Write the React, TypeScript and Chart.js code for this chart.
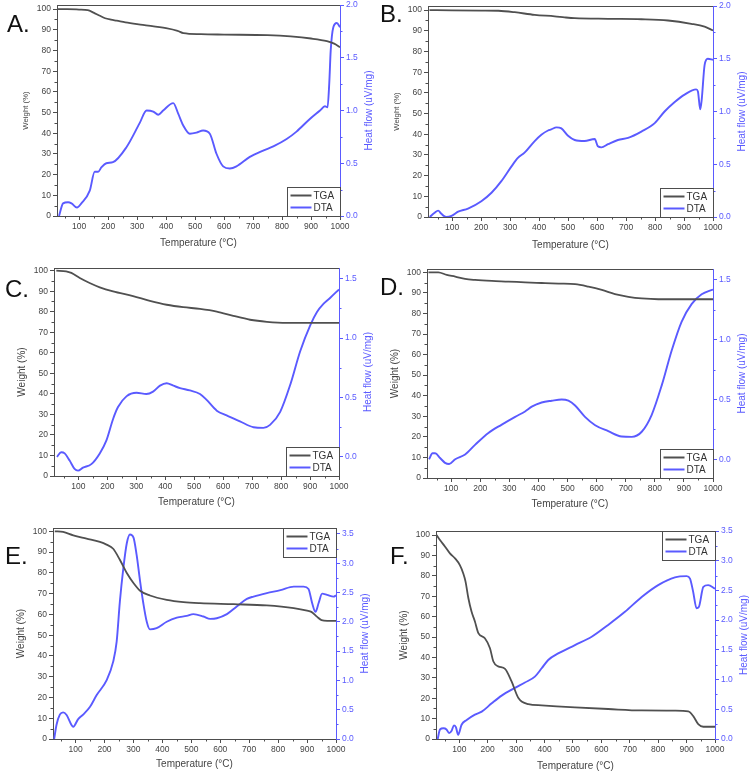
import React, { useEffect, useRef } from 'react';
import { Chart, registerables } from 'chart.js';

Chart.register(...registerables);

// ---------------- axis ticks ----------------
const X_TICKS = [100, 200, 300, 400, 500, 600, 700, 800, 900, 1000];
const X_MINOR = [50, 150, 250, 350, 450, 550, 650, 750, 850, 950];
const W_TICKS = [0, 10, 20, 30, 40, 50, 60, 70, 80, 90, 100];
const W_MINOR = [5, 15, 25, 35, 45, 55, 65, 75, 85, 95];
const H_TICKS_AB = [0, 0.5, 1.0, 1.5, 2.0];
const H_MINOR_AB = [0.25, 0.75, 1.25, 1.75];
const H_TICKS_CD = [0, 0.5, 1.0, 1.5];
const H_MINOR_CD = [0.25, 0.75, 1.25];
const H_TICKS_EF = [0, 0.5, 1.0, 1.5, 2.0, 2.5, 3.0, 3.5];
const H_MINOR_EF = [0.25, 0.75, 1.25, 1.75, 2.25, 2.75, 3.25];

const SERIES_NAMES = ['TGA', 'DTA'];
const X_TITLE = 'Temperature (°C)';
const W_TITLE = 'Weight (%)';
const H_TITLE = 'Heat flow (uV/mg)';

// ---------------- panel A ----------------
const A_TGA_T = [24, 60, 100, 130, 150, 170, 190, 210, 230, 260, 320, 400, 440, 460, 520, 600, 750, 830, 900, 955, 980, 1000];
const A_TGA_W = [100, 100, 99.8, 99.5, 98.3, 96.9, 95.6, 94.9, 94.4, 93.6, 92.4, 90.8, 89.5, 88.4, 87.9, 87.7, 87.4, 86.8, 85.8, 84.5, 83.3, 81.6];
const A_DTA_T = [31, 45, 62, 74, 93, 108, 137, 154, 166, 177, 194, 217, 263, 309, 333, 356, 373, 390, 425, 442, 459, 482, 505, 528, 551, 574, 597, 620, 643, 689, 735, 770, 816, 850, 896, 931, 948, 957, 963, 968, 977, 989, 1000];
const A_DTA_H = [0.0, 0.12, 0.13, 0.12, 0.08, 0.12, 0.24, 0.42, 0.42, 0.46, 0.5, 0.51, 0.65, 0.88, 1.0, 0.99, 0.96, 1.0, 1.07, 0.97, 0.86, 0.78, 0.79, 0.81, 0.78, 0.59, 0.47, 0.45, 0.47, 0.56, 0.62, 0.66, 0.73, 0.8, 0.92, 1.0, 1.04, 1.03, 1.26, 1.57, 1.79, 1.83, 1.79];

// ---------------- panel B ----------------
const B_TGA_T = [22, 100, 200, 260, 316, 385, 454, 488, 523, 638, 753, 845, 925, 971, 1000];
const B_TGA_W = [100, 99.9, 99.8, 99.7, 99.0, 97.7, 97.0, 96.5, 96.1, 95.8, 95.6, 95.0, 93.4, 92.0, 90.2];
const B_DTA_T = [23, 40, 52, 63, 80, 98, 121, 155, 201, 236, 270, 305, 327, 350, 385, 408, 431, 442, 460, 477, 500, 523, 557, 592, 603, 615, 638, 672, 707, 753, 799, 833, 868, 902, 942, 948, 956, 961, 971, 982, 1000];
const B_DTA_H = [0.0, 0.04, 0.06, 0.03, 0.0, 0.01, 0.05, 0.08, 0.15, 0.23, 0.34, 0.48, 0.56, 0.61, 0.72, 0.78, 0.82, 0.83, 0.85, 0.84, 0.77, 0.73, 0.72, 0.74, 0.67, 0.66, 0.69, 0.73, 0.75, 0.81, 0.89, 1.0, 1.09, 1.16, 1.21, 1.19, 1.02, 1.11, 1.44, 1.5, 1.49];

// ---------------- panel C ----------------
const C_TGA_T = [24, 58, 76, 105, 139, 174, 220, 289, 347, 405, 462, 520, 578, 635, 693, 751, 820, 1000];
const C_TGA_W = [100, 99.7, 98.9, 96.4, 94.0, 91.9, 89.9, 87.6, 85.3, 83.4, 82.2, 81.4, 80.1, 78.0, 76.1, 75.1, 74.6, 74.6];
const C_DTA_T = [26, 41, 53, 70, 87, 99, 116, 145, 174, 197, 220, 237, 266, 301, 335, 358, 382, 405, 428, 451, 485, 520, 543, 578, 612, 658, 705, 739, 762, 797, 832, 866, 901, 924, 947, 970, 1000];
const C_DTA_H = [0.0, 0.04, 0.03, -0.03, -0.1, -0.115, -0.09, -0.06, 0.03, 0.14, 0.32, 0.42, 0.51, 0.54, 0.53, 0.55, 0.6, 0.62, 0.6, 0.58, 0.56, 0.53, 0.48, 0.39, 0.35, 0.3, 0.25, 0.245, 0.27, 0.38, 0.61, 0.89, 1.11, 1.22, 1.29, 1.34, 1.41];

// ---------------- panel D ----------------
const D_TGA_T = [22, 56, 85, 114, 148, 182, 240, 297, 354, 411, 469, 526, 572, 618, 663, 709, 755, 812, 1000];
const D_TGA_W = [100, 100, 98.7, 97.9, 96.8, 96.3, 95.8, 95.5, 95.1, 94.8, 94.5, 94.2, 93.0, 91.4, 89.4, 88.1, 87.3, 86.9, 86.9];
const D_DTA_T = [24, 36, 45, 62, 79, 93, 114, 148, 182, 228, 274, 320, 354, 377, 411, 446, 480, 503, 526, 560, 595, 640, 686, 721, 755, 789, 824, 858, 892, 927, 961, 1000];
const D_DTA_H = [0.0, 0.05, 0.05, 0.01, -0.03, -0.04, 0.0, 0.04, 0.12, 0.22, 0.29, 0.355, 0.4, 0.44, 0.475, 0.49, 0.5, 0.49, 0.45, 0.355, 0.285, 0.235, 0.19, 0.187, 0.23, 0.37, 0.62, 0.91, 1.15, 1.3, 1.38, 1.42];

// ---------------- panel E ----------------
const E_TGA_T = [28, 57, 92, 138, 184, 207, 230, 253, 277, 300, 323, 357, 415, 473, 530, 646, 761, 854, 900, 915, 935, 950, 970, 1000];
const E_TGA_W = [100, 99.7, 98.1, 96.5, 94.9, 93.6, 91.6, 86.3, 79.9, 75.1, 71.4, 69.1, 67.0, 65.9, 65.4, 64.9, 64.3, 63.0, 61.8, 61.2, 58.8, 57.2, 56.9, 56.9];
const E_DTA_T = [26, 34, 46, 57, 69, 86, 92, 109, 127, 150, 173, 207, 230, 242, 253, 265, 277, 288, 300, 311, 323, 334, 346, 357, 380, 415, 450, 484, 507, 542, 565, 588, 623, 657, 692, 715, 761, 808, 854, 888, 905, 917, 929, 940, 952, 969, 992, 1000];
const E_DTA_H = [0.0, 0.24, 0.42, 0.455, 0.41, 0.24, 0.21, 0.34, 0.42, 0.55, 0.75, 1.0, 1.32, 1.66, 2.34, 2.91, 3.34, 3.49, 3.44, 3.14, 2.69, 2.32, 2.0, 1.87, 1.89, 2.0, 2.07, 2.1, 2.13, 2.09, 2.05, 2.06, 2.13, 2.26, 2.39, 2.43, 2.49, 2.54, 2.6, 2.6, 2.56, 2.33, 2.17, 2.32, 2.48, 2.46, 2.43, 2.45];

// ---------------- panel F ----------------
const F_TGA_T = [20, 32, 50, 67, 85, 102, 114, 122, 132, 143, 155, 167, 190, 208, 220, 237, 261, 284, 308, 343, 390, 507, 624, 742, 859, 906, 924, 941, 959, 1000];
const F_TGA_W = [100, 97.6, 94.3, 91.0, 88.6, 85.3, 81.2, 77.2, 69.0, 62.5, 57.6, 51.9, 49.4, 44.5, 38.0, 35.6, 34.4, 28.2, 20.1, 17.1, 16.5, 15.5, 14.7, 14.0, 13.9, 13.5, 11.1, 7.3, 6.0, 6.0];
const F_DTA_T = [24, 32, 44, 55, 64, 73, 81, 88, 96, 108, 126, 155, 179, 214, 249, 296, 331, 366, 390, 413, 448, 507, 566, 624, 683, 742, 800, 859, 900, 912, 923, 935, 943, 959, 976, 1000];
const F_DTA_H = [0.0, 0.16, 0.18, 0.16, 0.1, 0.14, 0.23, 0.2, 0.07, 0.24, 0.32, 0.41, 0.46, 0.6, 0.73, 0.86, 0.95, 1.05, 1.19, 1.33, 1.44, 1.58, 1.72, 1.92, 2.14, 2.39, 2.59, 2.72, 2.74, 2.7, 2.48, 2.2, 2.22, 2.56, 2.59, 2.53];

// ---------------- styles ----------------
const FONT = '"Liberation Sans", Arial, Helvetica, sans-serif';
const GRAY = '#4d4d4d';
const TEXT = '#444444';
const BLUE = '#5a5aff';
const TGA_COLOR = '#505050';

type PanelDef = {
  letter: string;
  box: [number, number, number, number];
  area: [number, number, number, number];
  letterPos: [number, number];
  xMin: number;
  wMax: number;
  hMin: number;
  hMax: number;
  hTicks: number[];
  hMinor: number[];
  legend: 'br' | 'tr';
  wTitleSize: number;
  xTitleDy: number;
  tgaT: number[];
  tgaW: number[];
  dtaT: number[];
  dtaH: number[];
};

const PANELS: PanelDef[] = [
  { letter: 'A.', box: [0, 0, 375, 258], area: [57, 5, 340, 216], letterPos: [7, 12], xMin: 24, wMax: 102, hMin: 0, hMax: 2, hTicks: H_TICKS_AB, hMinor: H_MINOR_AB, legend: 'br', wTitleSize: 7.8, xTitleDy: 27, tgaT: A_TGA_T, tgaW: A_TGA_W, dtaT: A_DTA_T, dtaH: A_DTA_H },
  { letter: 'B.', box: [375, 0, 375, 258], area: [428, 6, 713, 217], letterPos: [380, 2], xMin: 17, wMax: 102, hMin: 0, hMax: 2, hTicks: H_TICKS_AB, hMinor: H_MINOR_AB, legend: 'br', wTitleSize: 7.8, xTitleDy: 28, tgaT: B_TGA_T, tgaW: B_TGA_W, dtaT: B_DTA_T, dtaH: B_DTA_H },
  { letter: 'C.', box: [0, 258, 375, 259], area: [54, 268, 339, 476], letterPos: [5, 277], xMin: 16, wMax: 101.3, hMin: -0.16, hMax: 1.59, hTicks: H_TICKS_CD, hMinor: H_MINOR_CD, legend: 'br', wTitleSize: 10, xTitleDy: 26, tgaT: C_TGA_T, tgaW: C_TGA_W, dtaT: C_DTA_T, dtaH: C_DTA_H },
  { letter: 'D.', box: [375, 258, 375, 259], area: [427, 269, 713, 478], letterPos: [380, 275], xMin: 17, wMax: 101.6, hMin: -0.157, hMax: 1.592, hTicks: H_TICKS_CD, hMinor: H_MINOR_CD, legend: 'br', wTitleSize: 10, xTitleDy: 26, tgaT: D_TGA_T, tgaW: D_TGA_W, dtaT: D_DTA_T, dtaH: D_DTA_H },
  { letter: 'E.', box: [0, 517, 375, 259], area: [53, 528, 336, 739], letterPos: [5, 544], xMin: 22, wMax: 101.6, hMin: 0, hMax: 3.6, hTicks: H_TICKS_EF, hMinor: H_MINOR_EF, legend: 'tr', wTitleSize: 10, xTitleDy: 25, tgaT: E_TGA_T, tgaW: E_TGA_W, dtaT: E_DTA_T, dtaH: E_DTA_H },
  { letter: 'F.', box: [375, 517, 375, 259], area: [436, 531, 715, 739], letterPos: [390, 544], xMin: 18, wMax: 102, hMin: 0, hMax: 3.5, hTicks: H_TICKS_EF, hMinor: H_MINOR_EF, legend: 'tr', wTitleSize: 10, xTitleDy: 27, tgaT: F_TGA_T, tgaW: F_TGA_W, dtaT: F_DTA_T, dtaH: F_DTA_H },
];

function makeDecor(p: PanelDef) {
  return {
    id: 'decor' + p.letter,
    afterDraw(chart: any) {
      const { ctx, chartArea: ca, scales } = chart;
      const xs = scales.x, ys = scales.y, y2 = scales.y2;
      ctx.save();
      const seg = (x1: number, y1: number, x2: number, y2_: number) => {
        ctx.beginPath();
        ctx.moveTo(x1, y1);
        ctx.lineTo(x2, y2_);
        ctx.stroke();
      };
      // top frame
      ctx.lineWidth = 1;
      ctx.strokeStyle = GRAY;
      seg(ca.left, Math.round(ca.top) + 0.5, ca.right, Math.round(ca.top) + 0.5);
      // minor ticks
      X_MINOR.forEach((v) => {
        if (v <= xs.min || v >= xs.max) return;
        const px = Math.round(xs.getPixelForValue(v)) + 0.5;
        seg(px, ca.bottom, px, ca.bottom + 2.5);
      });
      W_MINOR.forEach((v) => {
        const py = Math.round(ys.getPixelForValue(v)) + 0.5;
        seg(ca.left - 2.5, py, ca.left, py);
      });
      ctx.strokeStyle = BLUE;
      p.hMinor.forEach((v) => {
        const py = Math.round(y2.getPixelForValue(v)) + 0.5;
        seg(ca.right, py, ca.right + 2.5, py);
      });
      // titles
      ctx.textAlign = 'center';
      ctx.textBaseline = 'middle';
      ctx.fillStyle = TEXT;
      ctx.font = `10px ${FONT}`;
      ctx.fillText(X_TITLE, (ca.left + ca.right) / 2, ca.bottom + p.xTitleDy);
      ctx.save();
      ctx.translate(ca.left - 31.5, (ca.top + ca.bottom) / 2);
      ctx.rotate(-Math.PI / 2);
      ctx.font = `${p.wTitleSize}px ${FONT}`;
      ctx.fillText(W_TITLE, 0, 0);
      ctx.restore();
      ctx.save();
      ctx.translate(ca.right + 29, (ca.top + ca.bottom) / 2);
      ctx.rotate(-Math.PI / 2);
      ctx.fillStyle = BLUE;
      ctx.font = `10px ${FONT}`;
      ctx.fillText(H_TITLE, 0, 0);
      ctx.restore();
      // legend
      const lw = 53, lh = 29;
      const lx = Math.round(ca.right - lw) + 0.5;
      const ly = p.legend === 'br' ? Math.round(ca.bottom - lh) + 0.5 : Math.round(ca.top) + 0.5;
      ctx.fillStyle = '#ffffff';
      ctx.fillRect(lx, ly, lw, lh);
      ctx.strokeStyle = GRAY;
      ctx.lineWidth = 1;
      ctx.strokeRect(lx, ly, lw, lh);
      const colors = [TGA_COLOR, BLUE];
      SERIES_NAMES.forEach((name, i) => {
        const ry = ly + 8 + i * 12;
        ctx.strokeStyle = colors[i];
        ctx.lineWidth = 2;
        seg(lx + 3, ry, lx + 24, ry);
        ctx.fillStyle = '#333333';
        ctx.font = `10px ${FONT}`;
        ctx.textAlign = 'left';
        ctx.textBaseline = 'middle';
        ctx.fillText(name, lx + 26, ry + 0.5);
      });
      ctx.restore();
    },
  };
}

function PanelChart({ p }: { p: PanelDef }) {
  const ref = useRef<HTMLCanvasElement>(null);
  const [bx, by, bw, bh] = p.box;
  useEffect(() => {
    const [al, at, ar, ab] = p.area;
    const leftW = al - bx;
    const rightW = bx + bw - ar;
    const bottomH = by + bh - ab;
    const padTop = at - by;
    const tickFont = { size: 8.5, family: FONT };
    const chart = new Chart(ref.current as HTMLCanvasElement, {
      type: 'line',
      data: {
        datasets: [
          {
            label: SERIES_NAMES[0],
            data: p.tgaT.map((t, i) => ({ x: t, y: p.tgaW[i] })),
            yAxisID: 'y',
            borderColor: TGA_COLOR,
            borderWidth: 1.8,
            pointRadius: 0,
            cubicInterpolationMode: 'monotone',
            fill: false,
          },
          {
            label: SERIES_NAMES[1],
            data: p.dtaT.map((t, i) => ({ x: t, y: p.dtaH[i] })),
            yAxisID: 'y2',
            borderColor: BLUE,
            borderWidth: 1.9,
            pointRadius: 0,
            cubicInterpolationMode: 'monotone',
            fill: false,
          },
        ],
      },
      options: {
        animation: false,
        responsive: false,
        devicePixelRatio: 1,
        events: [],
        layout: { padding: { top: padTop, left: 0, right: 0, bottom: 0 } },
        plugins: { legend: { display: false }, tooltip: { enabled: false } },
        scales: {
          x: {
            type: 'linear',
            min: p.xMin,
            max: 1000,
            afterBuildTicks: (s: any) => {
              s.ticks = X_TICKS.map((v) => ({ value: v }));
            },
            afterFit: (s: any) => {
              s.height = bottomH;
              s.paddingLeft = 0;
              s.paddingRight = 0;
            },
            ticks: { autoSkip: false, maxRotation: 0, padding: 2, font: tickFont, color: TEXT, callback: (v: any) => String(v) },
            grid: { drawOnChartArea: false, drawTicks: true, tickLength: 4, color: GRAY },
            border: { display: true, color: GRAY, width: 1 },
          },
          y: {
            type: 'linear',
            position: 'left',
            min: 0,
            max: p.wMax,
            afterBuildTicks: (s: any) => {
              s.ticks = W_TICKS.map((v) => ({ value: v }));
            },
            afterFit: (s: any) => {
              s.width = leftW;
              s.paddingTop = 0;
              s.paddingBottom = 0;
            },
            ticks: { autoSkip: false, padding: 2, font: tickFont, color: TEXT, callback: (v: any) => String(v) },
            grid: { drawOnChartArea: false, drawTicks: true, tickLength: 4, color: GRAY },
            border: { display: true, color: GRAY, width: 1 },
          },
          y2: {
            type: 'linear',
            position: 'right',
            min: p.hMin,
            max: p.hMax,
            afterBuildTicks: (s: any) => {
              s.ticks = p.hTicks.map((v) => ({ value: v }));
            },
            afterFit: (s: any) => {
              s.width = rightW;
              s.paddingTop = 0;
              s.paddingBottom = 0;
            },
            ticks: { autoSkip: false, padding: 2, font: tickFont, color: BLUE, callback: (v: any) => Number(v).toFixed(1) },
            grid: { drawOnChartArea: false, drawTicks: true, tickLength: 4, color: BLUE },
            border: { display: true, color: BLUE, width: 1 },
          },
        },
      } as any,
      plugins: [makeDecor(p)],
    });
    return () => chart.destroy();
  }, []);
  return (
    <canvas
      ref={ref}
      width={bw}
      height={bh}
      style={{ position: 'absolute', left: bx, top: by, width: bw, height: bh }}
    />
  );
}

export default function App() {
  return (
    <div style={{ position: 'absolute', left: 0, top: 0, width: 750, height: 776, background: '#ffffff', overflow: 'hidden' }}>
      {PANELS.map((p) => (
        <PanelChart key={p.letter} p={p} />
      ))}
      {PANELS.map((p) => (
        <div
          key={'L' + p.letter}
          style={{
            position: 'absolute',
            left: p.letterPos[0],
            top: p.letterPos[1],
            fontFamily: FONT,
            fontSize: 24,
            lineHeight: '24px',
            color: '#111111',
          }}
        >
          {p.letter}
        </div>
      ))}
    </div>
  );
}
